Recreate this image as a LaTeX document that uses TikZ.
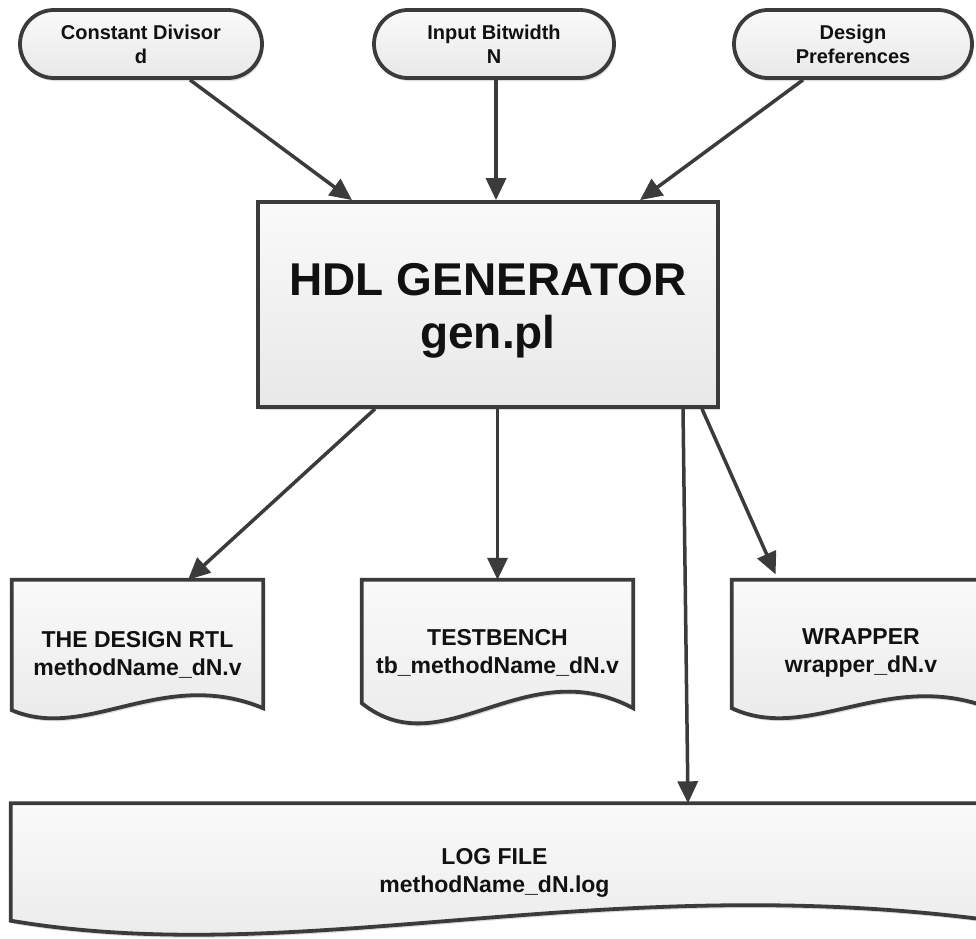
\documentclass[tikz,border=0pt]{standalone}
\usepackage{fontspec}
\setmainfont{Liberation Sans}
\usetikzlibrary{calc,arrows.meta,shadows,backgrounds,shapes.misc}

\definecolor{edge}{HTML}{3B3B3B}
\definecolor{ink}{HTML}{111111}

\tikzset{
  boxfill/.style={draw=edge, line width=3.8pt, top color=white!98!black, bottom color=black!9},
  shadowed/.style={drop shadow={opacity=0.28, shadow xshift=1.5pt, shadow yshift=-3pt}},
  inputnode/.style={rounded rectangle, boxfill, shadowed, minimum height=68pt,
    inner sep=0pt, align=center, text=ink, font=\bfseries\fontsize{20}{24}\selectfont},
  genbox/.style={rectangle, boxfill, shadowed, minimum width=460pt, minimum height=205pt,
    inner sep=0pt, align=center, text=ink, font=\bfseries\fontsize{46}{53}\selectfont},
  docnode/.style={rectangle, inner sep=0pt, align=center, text=ink,
    font=\bfseries\fontsize{23}{27.5}\selectfont},
  flow/.style={draw=edge, line width=3.5pt, -{Triangle[length=22pt,width=20pt]}},
}

% Document outline with a wavy bottom edge, drawn behind a named node.
% #1 node, #2 rise of left end, #3 rise of right end,
% #4 control depth below south, #5 control height above south
\newcommand\docshape[5]{%
  \path[boxfill, shadowed]
    (#1.north west) -- (#1.north east) -- ([yshift=#3pt]#1.south east)
    .. controls ($(#1.south west)!0.6!(#1.south east)+(0,-#5)$)
           and ($(#1.south west)!0.3!(#1.south east)+(0,#4)$)
    .. ([yshift=#2pt]#1.south west) -- cycle;}

\begin{document}
\begin{tikzpicture}[x=1pt, y=-1pt]
  \useasboundingbox (0,0) rectangle (976,938);
  \clip (0,0) rectangle (976,938);

  % inputs
  \node[inputnode, minimum width=242pt] (cd) at (141,44) {Constant Divisor\\d};
  \node[inputnode, minimum width=240pt] (ib) at (494,44) {Input Bitwidth\\N};
  \node[inputnode, minimum width=238pt] (dp) at (853,44) {Design\\Preferences};

  % generator
  \node[genbox] (gen) at (488,304.5) {\rule{0pt}{44pt}HDL GENERATOR\\gen.pl};

  % generated files
  \node[docnode, minimum width=251pt, minimum height=150pt] (rtl) at (137.5,655)
    {THE DESIGN RTL\\methodName\_dN.v};
  \node[docnode, minimum width=271pt, minimum height=146pt] (tb) at (497.5,653)
    {TESTBENCH\\tb\_methodName\_dN.v};
  \node[docnode, minimum width=258pt, minimum height=146pt] (wr) at (861,653)
    {WRAPPER\\wrapper\_dN.v};
  \node[docnode, minimum width=967pt, minimum height=139pt] (log) at (494.5,873)
    {LOG FILE\\methodName\_dN.log};

  \begin{scope}[on background layer]
    \docshape{rtl}{20}{22}{12}{64}
    \docshape{tb}{23}{18}{42}{76}
    \docshape{wr}{18}{18}{18}{58}
    \docshape{log}{22}{24}{27}{72}
  \end{scope}

  % connectors
  \draw[flow] ($(cd.south)+(49,0)$) -- ($(gen.north)+(-136,0)$);
  \draw[flow] ($(ib.south)+(2,0)$) -- ($(gen.north)+(8,0)$);
  \draw[flow] ($(dp.south)+(-50,0)$) -- ($(gen.north)+(152,0)$);
  \draw[flow] ($(gen.south)+(-113,0)$) -- ($(rtl.north)+(50.5,0)$);
  \draw[flow] ($(gen.south)+(9.5,0)$) -- (tb.north);
  \draw[flow] ($(gen.south)+(195,0)$) -- ($(log.north)+(193.5,0)$);
  \draw[flow, shorten >=6pt] ($(gen.south)+(214,0)$) -- ($(wr.north)+(-83,0)$);
\end{tikzpicture}
\end{document}
